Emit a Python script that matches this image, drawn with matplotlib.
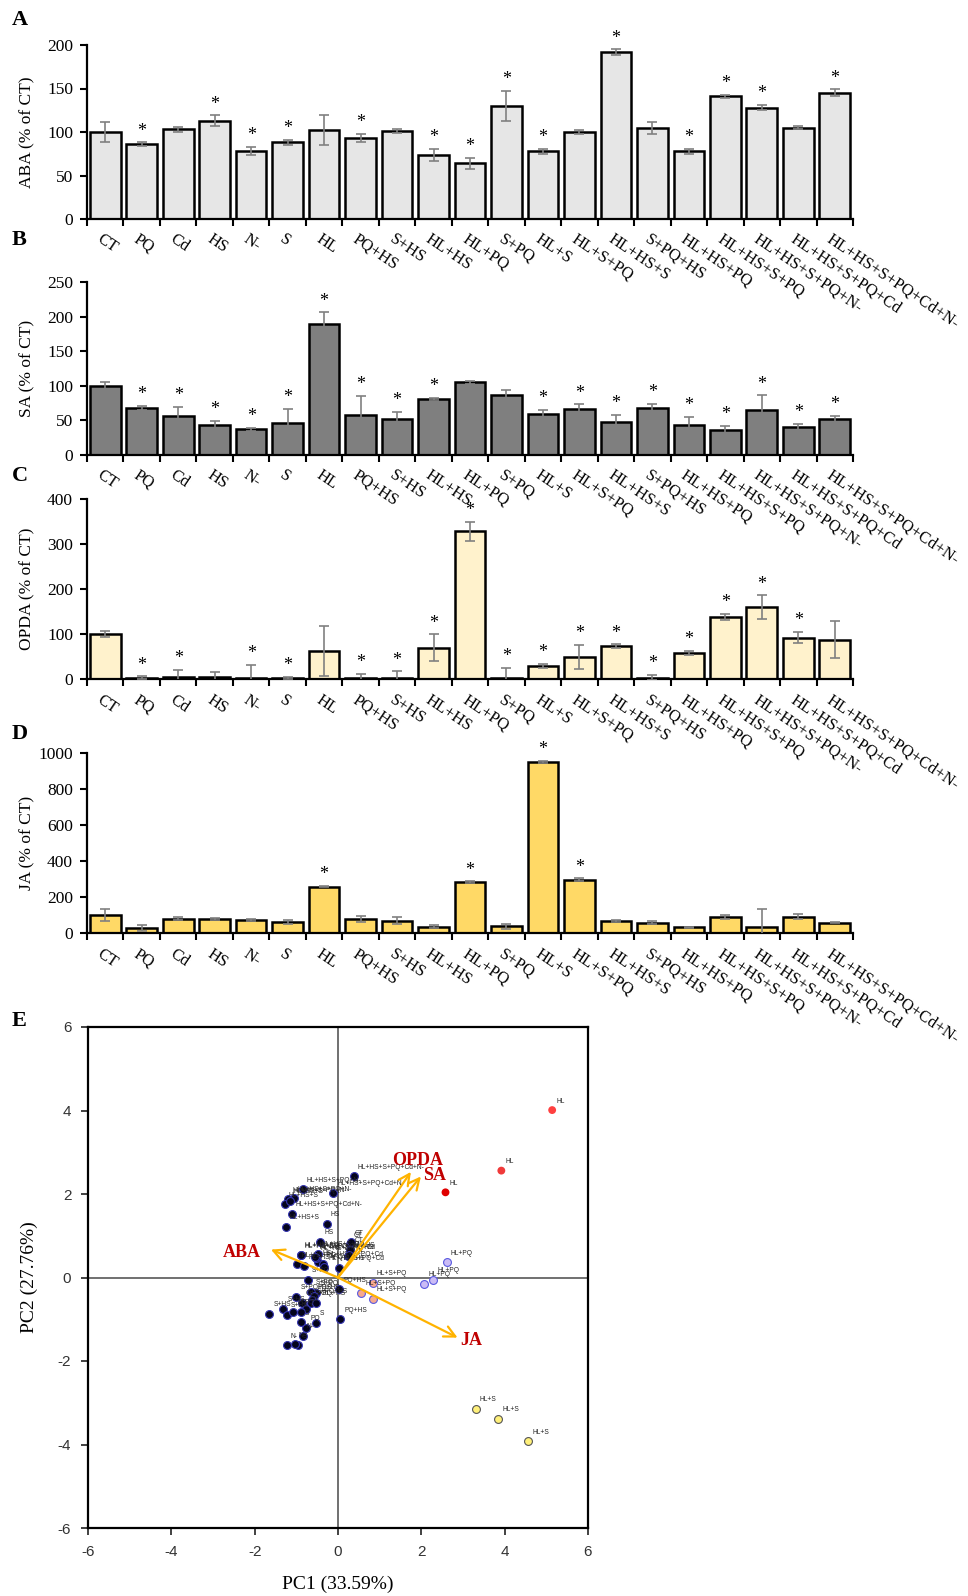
import numpy as np
import matplotlib.pyplot as plt
from matplotlib import transforms

plt.rcParams['font.family'] = ['Liberation Serif', 'DejaVu Serif']
plt.rcParams['axes.unicode_minus'] = False

# treatments (x categories of panels A-D)
treatments = ['CT', 'PQ', 'Cd', 'HS', 'N-', 'S', 'HL', 'PQ+HS', 'S+HS', 'HL+HS',
              'HL+PQ', 'S+PQ', 'HL+S', 'HL+S+PQ', 'HL+HS+S', 'S+PQ+HS', 'HL+HS+PQ',
              'HL+HS+S+PQ', 'HL+HS+S+PQ+N-', 'HL+HS+S+PQ+Cd', 'HL+HS+S+PQ+Cd+N-']

# A - ABA
aba = [100, 86, 103, 113, 78, 88, 102, 93, 101, 74, 64, 130, 78, 100, 192, 105, 78, 141, 128, 105, 145]
aba_err = [11, 2, 3, 6, 5, 3, 17, 5, 2, 7, 6, 17, 3, 2, 3, 7, 3, 2, 3, 2, 4]
aba_sig = [0, 1, 0, 1, 1, 1, 0, 1, 0, 1, 1, 1, 1, 0, 1, 0, 1, 1, 1, 0, 1]

# B - SA
sa = [100, 68, 56, 43, 37, 46, 189, 58, 52, 81, 105, 87, 59, 66, 48, 68, 44, 36, 65, 40, 52]
sa_err = [6, 3, 14, 6, 2, 21, 17, 27, 10, 1, 2, 7, 6, 7, 10, 6, 11, 6, 21, 5, 5]
sa_sig = [0, 1, 1, 1, 1, 1, 1, 1, 1, 1, 0, 0, 1, 1, 1, 1, 1, 1, 1, 1, 1]

# C - OPDA
opda = [100, 3, 4, 4, 2, 3, 62, 2, 2, 70, 328, 3, 29, 49, 73, 3, 58, 138, 160, 92, 87]
opda_err = [7, 3, 16, 12, 29, 2, 56, 10, 15, 29, 22, 22, 4, 27, 4, 6, 4, 6, 26, 13, 41]
opda_sig = [0, 1, 1, 0, 1, 1, 0, 1, 1, 1, 1, 1, 1, 1, 1, 1, 1, 1, 1, 1, 0]

# D - JA
ja = [100, 30, 80, 78, 73, 60, 257, 78, 68, 36, 282, 37, 952, 296, 66, 57, 32, 90, 32, 90, 58]
ja_err = [35, 17, 10, 4, 4, 10, 4, 17, 20, 8, 5, 12, 5, 8, 4, 8, 4, 10, 100, 14, 4]
ja_sig = [0, 0, 0, 0, 0, 0, 1, 0, 0, 0, 1, 0, 1, 1, 0, 0, 0, 0, 0, 0, 0]

# E - PCA scores
dark_x = [0.38, -0.11, -1.11, -0.85, -1.06, -1.20, -1.28, -1.26, -1.16,
          -0.27, -0.43, -0.47, 0.28, 0.29, 0.30, 0.24, 0.03, 0.27,
          -0.90, -0.49, -0.52, -0.98, -0.81, -0.90, -0.35, -0.33, -0.55,
          -0.73, -0.52, -0.64, 0.05, 0.02, -0.58, -1.00, -0.62, -0.66,
          -0.87, -0.52, -0.77, -1.31, -1.65, -1.23, -1.07, -0.90, -0.76,
          -0.54, -0.90, -0.95, -0.85, -1.23, -1.04]
dark_y = [2.42, 2.03, 1.52, 2.11, 1.90, 1.87, 1.75, 1.22, 1.84,
          1.29, 0.86, 0.36, 0.80, 0.67, 0.84, 0.51, 0.23, 0.55,
          0.53, 0.57, 0.47, 0.32, 0.27, 0.55, 0.33, 0.25, 0.50,
          -0.06, -0.36, -0.34, -1.00, -0.28, -0.45, -0.46, -0.55, -0.60,
          -0.61, -0.61, -0.75, -0.75, -0.87, -0.89, -0.82, -0.82, -1.20,
          -1.09, -1.07, -1.62, -1.39, -1.62, -1.60]
dark_lab = (['HL+HS+S+PQ+Cd+N-'] * 3 + ['HL+HS+S+PQ+N-'] * 3 + ['HL+HS+S'] * 3 +
            ['HS'] * 3 + ['CT'] * 3 + ['HL+HS'] * 3 + ['HL+HS+S+PQ'] * 3 +
            ['HL+HS+PQ'] * 3 + ['HL+HS+S+PQ+Cd'] * 3 + ['S+PQ'] * 3 + ['PQ+HS'] * 3 +
            ['S+PQ+HS'] * 3 + ['Cd'] * 3 + ['S+HS'] * 3 + ['PQ'] * 3 + ['S'] * 3 + ['N-'] * 3)

hl_x = [5.14, 3.92, 2.58]
hl_y = [4.01, 2.56, 2.04]
hlpq_x = [2.61, 2.29, 2.07]
hlpq_y = [0.36, -0.05, -0.15]
hlspq_x = [0.83, 0.55, 0.83]
hlspq_y = [-0.13, -0.37, -0.51]
hls_x = [3.30, 3.84, 4.56]
hls_y = [-3.14, -3.39, -3.92]

# PCA loadings
load_names = ['ABA', 'OPDA', 'SA', 'JA']
load_x = [-1.61, 1.75, 1.99, 2.87]
load_y = [0.67, 2.53, 2.42, -1.44]
load_lab_x = [-2.30, 1.91, 2.31, 3.19]
load_lab_y = [0.59, 2.81, 2.44, -1.51]


fig = plt.figure(figsize=(9.68, 15.96), dpi=100)


def rect(l, t, r, b):
    return [l / 968, 1 - b / 1596, (r - l) / 968, (b - t) / 1596]


def bar_panel(box, vals, errs, sig, color, ymax, step, ylabel):
    ax = fig.add_axes(box)
    ax.patch.set_alpha(0)
    x = np.arange(len(treatments))
    ax.bar(x, vals, width=0.84, color=color, edgecolor='black', linewidth=1.8, zorder=2)
    ax.errorbar(x, vals, yerr=errs, fmt='none', ecolor='#808080', elinewidth=1.2,
                capsize=3.5, capthick=1.2, zorder=3)
    for i in range(len(x)):
        if sig[i]:
            ax.annotate('*', (x[i], vals[i] + errs[i]), xytext=(0, 2),
                        textcoords='offset points', ha='center', va='bottom', fontsize=13)
    ax.set_xlim(-0.5, len(x) - 0.5)
    ax.set_ylim(0, ymax)
    ax.set_yticks(np.arange(0, ymax + 1, step))
    ax.set_xticks(np.arange(-0.5, len(x), 1))
    ax.set_xticklabels([])
    ax.tick_params(axis='both', direction='out', length=5, width=1.5, labelsize=12.5, pad=5)
    for s in ['top', 'right']:
        ax.spines[s].set_visible(False)
    for s in ['left', 'bottom']:
        ax.spines[s].set_linewidth(1.6)
    ax.set_ylabel(ylabel, fontsize=12.5)
    ax.yaxis.set_label_coords(-0.068, 0.5)
    trans = transforms.blended_transform_factory(ax.transData, ax.transAxes)
    for i, name in enumerate(treatments):
        ax.text(i - 0.05, -0.07, name, transform=trans, rotation=-34, rotation_mode='anchor',
                ha='left', va='top', fontsize=11.8, clip_on=False, zorder=10)
    return ax


bar_panel(rect(87, 45, 853, 219), aba, aba_err, aba_sig, '#e6e6e6', 200, 50, 'ABA (% of CT)')
bar_panel(rect(87, 282, 853, 455), sa, sa_err, sa_sig, '#7f7f7f', 250, 50, 'SA (% of CT)')
bar_panel(rect(87, 499, 853, 679), opda, opda_err, opda_sig, '#fff2cc', 400, 100, 'OPDA (% of CT)')
bar_panel(rect(87, 753, 853, 933), ja, ja_err, ja_sig, '#ffd966', 1000, 200, 'JA (% of CT)')

for letter, ypix in [('A', 20), ('B', 240), ('C', 476), ('D', 734), ('E', 1021)]:
    fig.text(12 / 968, 1 - ypix / 1596, letter, fontsize=16, fontweight='bold', va='center')

# panel E - PCA biplot
ax = fig.add_axes(rect(88, 1027, 588, 1528))
ax.patch.set_alpha(0)
ax.axhline(0, color='#707070', lw=1.4, zorder=1)
ax.axvline(0, color='#707070', lw=1.4, zorder=1)

ax.scatter(dark_x, dark_y, s=32, color='#04041c', edgecolors='#3535b0', linewidths=0.8, zorder=3)
ax.scatter(hl_x, hl_y, s=32, color=['#ff4040', '#f03a3a', '#e00000'], edgecolors='none', zorder=3)
ax.scatter(hlpq_x, hlpq_y, s=32, color='#cbbcf5', edgecolors='#5a5ae0', linewidths=0.8, zorder=3)
ax.scatter(hlspq_x, hlspq_y, s=32, color='#f6a98e', edgecolors='#5a5ae0', linewidths=0.8, zorder=3)
ax.scatter(hls_x, hls_y, s=32, color='#fff07a', edgecolors='#555555', linewidths=0.8, zorder=3)

all_x = dark_x + hl_x + hlpq_x + hlspq_x + hls_x
all_y = dark_y + hl_y + hlpq_y + hlspq_y + hls_y
all_lab = dark_lab + ['HL'] * 3 + ['HL+PQ'] * 3 + ['HL+S+PQ'] * 3 + ['HL+S'] * 3
for px, py, lab in zip(all_x, all_y, all_lab):
    ax.annotate(lab, (px, py), xytext=(3, 4), textcoords='offset points', fontsize=4.8,
                family='Liberation Sans', color='#222222', ha='left', va='bottom', zorder=4)

for i in range(len(load_names)):
    ax.annotate('', xy=(load_x[i], load_y[i]), xytext=(0, 0),
                arrowprops=dict(arrowstyle='->', color='#ffb300', lw=1.6, mutation_scale=20,
                                shrinkA=0, shrinkB=0), zorder=5)
    ax.text(load_lab_x[i], load_lab_y[i], load_names[i], color='#c00000', fontsize=13,
            fontweight='bold', ha='center', va='center', zorder=6)

ax.set_xlim(-6, 6)
ax.set_ylim(-6, 6)
ax.set_xticks(np.arange(-6, 7, 2))
ax.set_yticks(np.arange(-6, 7, 2))
ax.tick_params(direction='out', length=5, width=1.3, labelsize=11, colors='#333333', pad=7)
for lab in ax.get_xticklabels() + ax.get_yticklabels():
    lab.set_family('Liberation Sans')
for s in ax.spines.values():
    s.set_linewidth(1.6)
ax.set_xlabel('PC1 (33.59%)', fontsize=14, labelpad=12)
ax.set_ylabel('PC2 (27.76%)', fontsize=14, labelpad=14)

fig.savefig('out.png', dpi=100)
